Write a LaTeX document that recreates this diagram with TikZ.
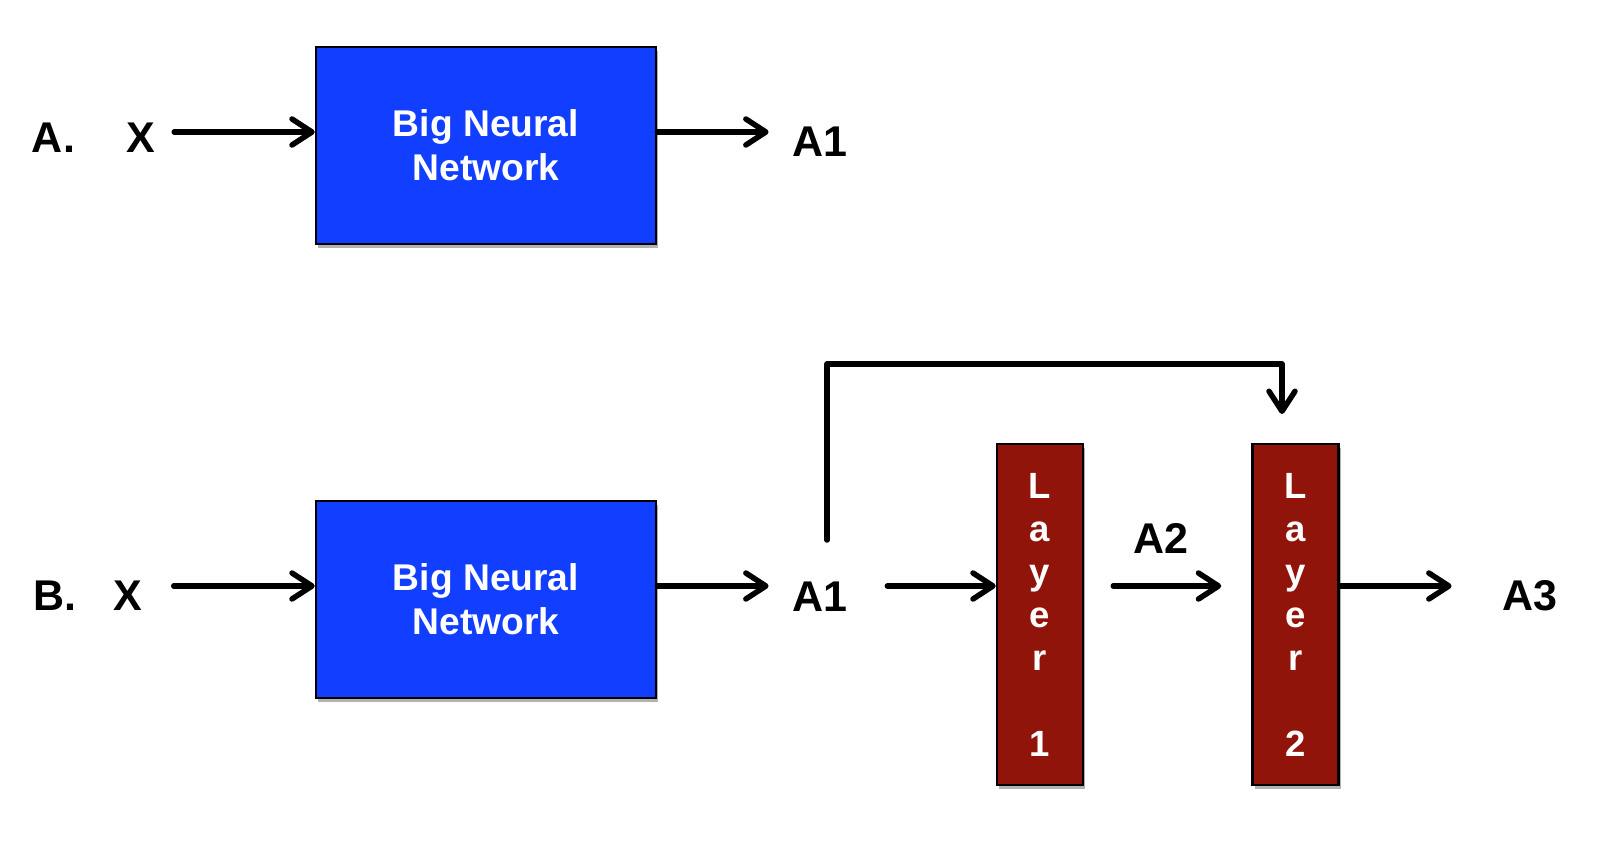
\documentclass[tikz,border=0pt]{standalone}
\usepackage{fontspec}
\setmainfont{Liberation Sans}
\usetikzlibrary{arrows.meta,shadows}
\definecolor{nnblue}{RGB}{18,62,255}
\definecolor{layred}{RGB}{145,20,10}
\tikzset{
  lbl/.style={font=\fontsize{21.5}{25}\selectfont\bfseries, inner sep=0pt, anchor=base},
  boxshadow/.style={drop shadow={shadow xshift=1.2pt, shadow yshift=-1.8pt, opacity=0.3, fill=black}},
  nnbox/.style={draw=black, line width=1.25pt, fill=nnblue, text=white,
    font=\fontsize{18.6}{22}\selectfont\bfseries, align=center,
    minimum width=170pt, minimum height=98.5pt, inner sep=0pt, boxshadow},
  laybox/.style={draw=black, line width=1.25pt, fill=layred, text=white,
    font=\fontsize{18.25}{21.5}\selectfont\bfseries, align=center,
    minimum width=43pt, minimum height=170.5pt, inner sep=0pt, boxshadow},
  arr/.style={line width=2.75pt, line cap=round, line join=round,
    -{Straight Barb[length=10pt, width=13pt, round]}}
}
\begin{document}
\begin{tikzpicture}[x=0.5pt,y=-0.5pt]
\useasboundingbox[fill=white] (0,0) rectangle (1602,866);
\coordinate (rowA) at (0,132);
\coordinate (rowB) at (0,586);
% row A
\node[lbl] (labA) at (53.5,153) {A.};
\node[lbl] (xA) at (140.5,153) {X};
\node[nnbox] (boxA) at (486,145.5) {Big Neural\\Network};
\node[lbl] (a1A) at (819.5,157) {A1};
\draw[arr, shorten <=9.5pt] (xA.east |- rowA) -- (boxA.west |- rowA);
\draw[arr, shorten >=11.5pt] (boxA.east |- rowA) -- (a1A.west |- rowA);
% row B
\node[lbl] (labB) at (55,610) {B.};
\node[lbl] (xB) at (128,610) {X};
\node[nnbox] (boxB) at (486,599.5) {Big Neural\\Network};
\node[lbl] (a1B) at (819.5,611) {A1};
\node[laybox] (L1) at (1040,614.5) {L\\a\\y\\e\\r\\[21.5pt]1};
\node[lbl] (a2) at (1161,553) {A2};
\node[laybox] (L2) at (1295.5,614.5) {L\\a\\y\\e\\r\\[21.5pt]2};
\node[lbl] (a3) at (1529.5,610) {A3};
\draw[arr, shorten <=15.5pt] (xB.east |- rowB) -- (boxB.west |- rowB);
\draw[arr, shorten >=11.5pt] (boxB.east |- rowB) -- (a1B.west |- rowB);
\draw[arr, shorten <=20pt] (a1B.east |- rowB) -- (L1.west |- rowB);
\draw[arr, shorten <=14.5pt, shorten >=15pt] (L1.east |- rowB) -- (L2.west |- rowB);
\draw[arr, shorten >=25pt] (L2.east |- rowB) -- (a3.west |- rowB);
% feedback connector
\coordinate (fbstart) at (827,540);
\coordinate (fbtop) at (0,364);
\coordinate (fbend) at (1282,414);
\draw[arr] (fbstart) -- (fbstart |- fbtop) -- (fbend |- fbtop) -- (fbend);
\end{tikzpicture}
\end{document}
